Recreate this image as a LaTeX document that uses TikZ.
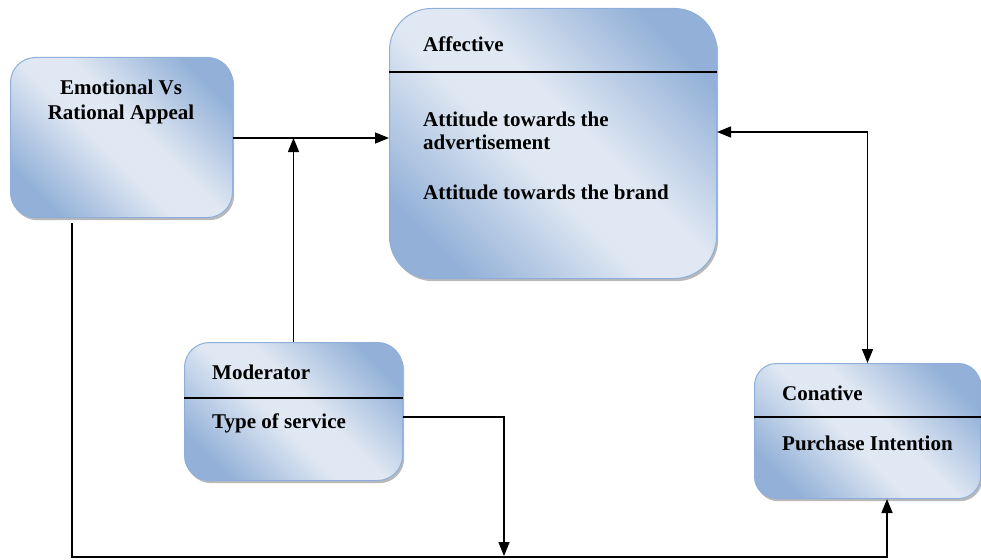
\documentclass[tikz,border=0pt]{standalone}
\usepackage{fontspec}
\setmainfont{Liberation Serif}
\usetikzlibrary{arrows.meta,calc}
\definecolor{boxdark}{HTML}{93B1D8}
\definecolor{boxlight}{HTML}{E0E8F3}
\definecolor{boxedge}{HTML}{8DAFD9}
\pgfdeclareverticalshading{boxshade}{100bp}{color(0bp)=(boxdark); color(24bp)=(boxdark); color(45bp)=(boxlight); color(55bp)=(boxlight); color(76bp)=(boxdark); color(100bp)=(boxdark)}
\tikzset{
  box/.style={rectangle, draw=boxedge, line width=1pt, inner sep=0pt, anchor=north west,
    shading=boxshade, shading angle=-45},
  shadowbox/.style={rectangle, fill=gray!55, draw=none, inner sep=0pt, anchor=north west},
  lbl/.style={font=\fontsize{21}{23}\selectfont\bfseries, inner sep=0pt, text=black},
  arr/.style={line width=1.5pt, -{Triangle[length=14pt,width=11pt]}},
  arrr/.style={line width=1.5pt, {Triangle[length=14pt,width=11pt]}-{Triangle[length=14pt,width=11pt]}},
  divider/.style={line width=1.6pt, black}
}
\begin{document}
\begin{tikzpicture}[x=1pt,y=-1pt]
\useasboundingbox (0,0) rectangle (981,559);
% shadows
\node[shadowbox, rounded corners=25pt, minimum width=222pt, minimum height=160pt] (emoS) at (12,60) {};
\node[shadowbox, rounded corners=42pt, minimum width=327pt, minimum height=270pt] (affS) at (391,11) {};
\node[shadowbox, rounded corners=25pt, minimum width=218pt, minimum height=138pt] (modS) at (186,345) {};
\node[shadowbox, rounded corners=22pt, minimum width=226pt, minimum height=135pt] (conS) at (756,366) {};
% boxes
\node[box, rounded corners=25pt, minimum width=222pt, minimum height=160pt] (emo) at (10,57) {};
\node[box, rounded corners=42pt, minimum width=327pt, minimum height=270pt] (aff) at (389,8) {};
\node[box, rounded corners=25pt, minimum width=218pt, minimum height=138pt] (mod) at (184,342) {};
\node[box, rounded corners=22pt, minimum width=226pt, minimum height=135pt] (con) at (754,363) {};
% dividers
\draw[divider] (aff.west |- 0,72) -- (aff.east |- 0,72);
\draw[divider] (mod.west |- 0,398) -- (mod.east |- 0,398);
\draw[divider] (con.west |- 0,417) -- (con.east |- 0,417);
% texts
\node[lbl, anchor=base] (t1) at (121,95) {Emotional Vs};
\node[lbl, anchor=base] (t2) at (121,120) {Rational Appeal};
\node[lbl, anchor=base west] (t3) at (423,52) {Affective};
\node[lbl, anchor=base west] (t4) at (423,126) {Attitude towards the};
\node[lbl, anchor=base west] (t5) at (423,149) {advertisement};
\node[lbl, anchor=base west] (t6) at (423,199) {Attitude towards the brand};
\node[lbl, anchor=base west] (t7) at (212,379) {Moderator};
\node[lbl, anchor=base west] (t8) at (212,428) {Type of service};
\node[lbl, anchor=base west] (t9) at (782,400) {Conative};
\node[lbl, anchor=base west] (t10) at (782,450) {Purchase Intention};
% connectors
\coordinate (emoout) at (72,223);
\coordinate (bottomline) at (504,557);
\draw[arr] (emo.east |- 0,138) -- (aff.west |- 0,138);
\draw[arr] (mod.north) -- (mod.north |- 0,138);
\draw[arrr] (aff.east |- 0,132) -| (con.north);
\draw[line width=1.5pt] (emoout) |- (bottomline);
\draw[arr] (bottomline) -| (con.south -| 887,0);
\draw[arr] (mod.east |- 0,417) -| ([yshift=1pt]bottomline);
\end{tikzpicture}
\end{document}
